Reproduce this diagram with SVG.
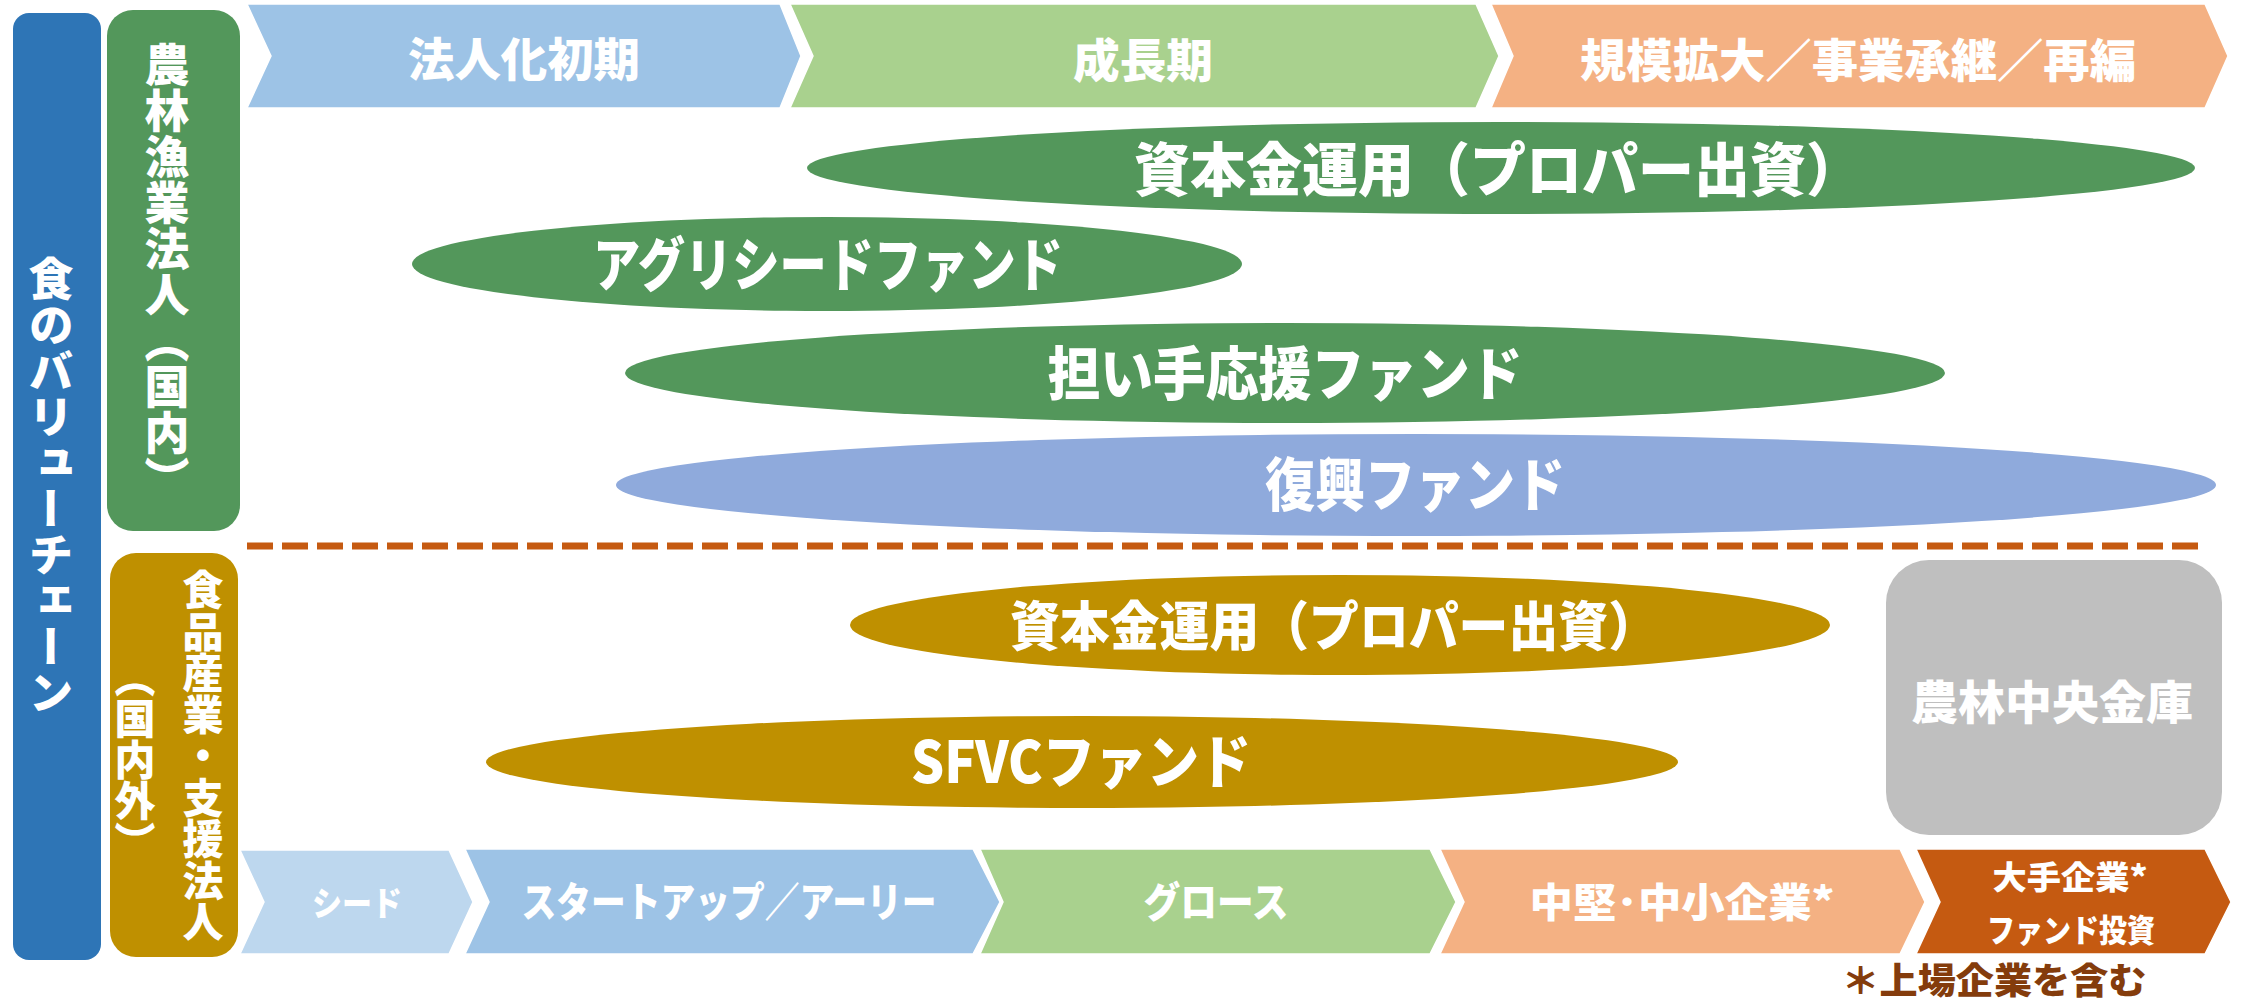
<svg xmlns="http://www.w3.org/2000/svg" width="2246" height="1005" viewBox="0 0 2246 1005">
<style>
text{font-family:"Noto Sans CJK JP","Noto Sans CJK SC",sans-serif;font-weight:900;fill:#fff;text-anchor:middle}
.vt{writing-mode:vertical-rl}
.chev{stroke:#fff;stroke-width:1.5}
.note{fill:#843C0C}
</style>
<rect width="2246" height="1005" fill="#fff"/>

<g id="value-chain">
<rect x="13" y="13" width="88" height="947" rx="16" fill="#2E75B6"/>
<text class="vt" x="51" y="486" font-size="45" letter-spacing="1">食のバリューチェーン</text>
</g>

<g id="agri-corp">
<rect x="107" y="10" width="133" height="521" rx="26" fill="#53975B"/>
<text class="vt" x="167" y="272" font-size="45" letter-spacing="1">農林漁業法人（国内）</text>
</g>

<g id="food-corp">
<rect x="110" y="553" width="128" height="404" rx="26" fill="#BF9000"/>
<text class="vt" x="203" y="756" font-size="41" letter-spacing="0.5">食品産業・支援法人</text>
<text class="vt" x="135" y="759" font-size="41">（国内外）</text>
</g>

<g id="stage-early">
<polygon class="chev" points="247,4 780,4 801,56 780,108 247,108 271,56" fill="#9DC3E6"/>
<text x="524" y="76" font-size="46" textLength="232" lengthAdjust="spacingAndGlyphs">法人化初期</text>
</g>
<g id="stage-growth">
<polygon class="chev" points="790,4 1476,4 1499,56 1476,108 790,108 813,56" fill="#A9D18E"/>
<text x="1143" y="77" font-size="46" textLength="140" lengthAdjust="spacingAndGlyphs">成長期</text>
</g>
<g id="stage-scale">
<polygon class="chev" points="1491,4 2205,4 2228,56 2205,108 1491,108 1513,56" fill="#F4B183"/>
<text x="1858" y="77" font-size="46" textLength="556" lengthAdjust="spacingAndGlyphs">規模拡大／事業承継／再編</text>
</g>

<g id="fund-capital-agri">
<ellipse cx="1501" cy="168" rx="694" ry="46" fill="#53975B"/>
<text x="1498" y="191" font-size="58" textLength="728" lengthAdjust="spacingAndGlyphs">資本金運用（プロパー出資）</text>
</g>
<g id="fund-agriseed">
<ellipse cx="827" cy="264" rx="415" ry="47" fill="#53975B"/>
<text x="828" y="286" font-size="58" textLength="470" lengthAdjust="spacingAndGlyphs">アグリシードファンド</text>
</g>
<g id="fund-ninaite">
<ellipse cx="1285" cy="373" rx="660" ry="50" fill="#53975B"/>
<text x="1285" y="395" font-size="58" textLength="475" lengthAdjust="spacingAndGlyphs">担い手応援ファンド</text>
</g>
<g id="fund-fukko">
<ellipse cx="1416" cy="485" rx="800" ry="51" fill="#8FAADC"/>
<text x="1415" y="506" font-size="58" textLength="300" lengthAdjust="spacingAndGlyphs">復興ファンド</text>
</g>

<g id="divider">
<line x1="247" y1="546" x2="2204" y2="546" stroke="#C55A11" stroke-width="7" stroke-dasharray="26 9"/>
</g>

<g id="fund-capital-food">
<ellipse cx="1340" cy="625" rx="490" ry="50" fill="#BF9000"/>
<text x="1334" y="646" font-size="53" textLength="648" lengthAdjust="spacingAndGlyphs">資本金運用（プロパー出資）</text>
</g>
<g id="fund-sfvc">
<ellipse cx="1082" cy="762" rx="596" ry="46" fill="#BF9000"/>
<text x="1081" y="783" font-size="58" textLength="340" lengthAdjust="spacingAndGlyphs">SFVCファンド</text>
</g>

<g id="norinchukin">
<rect x="1886" y="560" width="336" height="275" rx="43" fill="#BFBFBF"/>
<text x="2052" y="719" font-size="46" textLength="282" lengthAdjust="spacingAndGlyphs">農林中央金庫</text>
</g>

<g id="stage-seed">
<polygon class="chev" points="240,850 449,850 473,902 449,954 240,954 264,902" fill="#BDD7EE"/>
<text x="357" y="916" font-size="34" textLength="90" lengthAdjust="spacingAndGlyphs">シード</text>
</g>
<g id="stage-startup">
<polygon class="chev" points="465,849 973,849 1000,902 973,954 465,954 489,902" fill="#9DC3E6"/>
<text x="729" y="917" font-size="41" textLength="415" lengthAdjust="spacingAndGlyphs">スタートアップ／アーリー</text>
</g>
<g id="stage-grow">
<polygon class="chev" points="980,849 1430,849 1456,902 1430,954 980,954 1003,902" fill="#A9D18E"/>
<text x="1216" y="917" font-size="41" textLength="145" lengthAdjust="spacingAndGlyphs">グロース</text>
</g>
<g id="stage-sme">
<polygon class="chev" points="1440,849 1900,849 1925,902 1900,954 1440,954 1464,902" fill="#F4B183"/>
<text x="1682" y="917" font-size="40" textLength="305" lengthAdjust="spacingAndGlyphs">中堅･中小企業*</text>
</g>
<g id="stage-large">
<polygon class="chev" points="1916,849 2205,849 2231,902 2205,954 1916,954 1940,902" fill="#C55A11"/>
<text x="2070" y="889" font-size="32" textLength="155" lengthAdjust="spacingAndGlyphs">大手企業*</text>
<text x="2071" y="942" font-size="32" textLength="168" lengthAdjust="spacingAndGlyphs">ファンド投資</text>
</g>

<g id="footnote">
<text class="note" x="1994" y="994" font-size="36" textLength="305" lengthAdjust="spacingAndGlyphs">＊上場企業を含む</text>
</g>
</svg>
